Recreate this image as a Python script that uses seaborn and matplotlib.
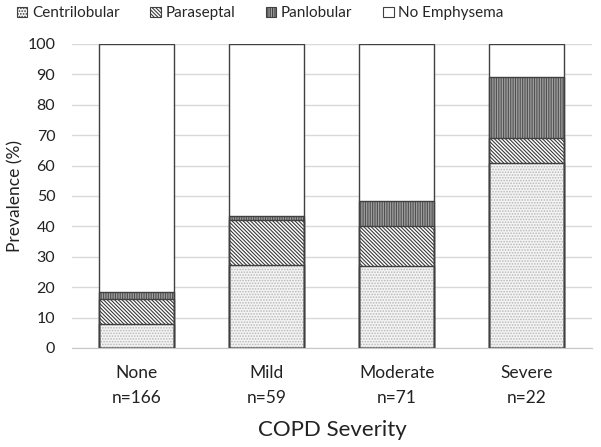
import pandas as pd
import numpy as np
import matplotlib.pyplot as plt
import seaborn as sns
from matplotlib.patches import Patch

sns.set_style('white')
plt.rcParams['font.family'] = ['Lato', 'DejaVu Sans']
plt.rcParams['hatch.linewidth'] = 0.8

severity = ['None', 'Mild', 'Moderate', 'Severe']
n_subjects = [166, 59, 71, 22]
centrilobular = [8.0, 27.3, 27.0, 61.0]
paraseptal = [8.0, 14.8, 13.0, 8.2]
panlobular = [2.3, 1.4, 8.5, 20.0]
no_emphysema = [81.7, 56.5, 51.5, 10.8]

df = pd.DataFrame({
    'severity': severity,
    'Centrilobular': centrilobular,
    'Paraseptal': paraseptal,
    'Panlobular': panlobular,
    'No Emphysema': no_emphysema,
})
layers = ['Centrilobular', 'Paraseptal', 'Panlobular', 'No Emphysema']
cum = df[layers].cumsum(axis=1)

# style per layer: face, hatch, hatch colour
styles = {
    'Centrilobular': ('#f4f4f4', '......', '#b8b8b8'),
    'Paraseptal': ('#ffffff', '\\' * 9, '#3a3a3a'),
    'Panlobular': ('#a0a0a0', '|' * 7, '#505050'),
    'No Emphysema': ('#ffffff', '', '#ffffff'),
}

fig = plt.figure(figsize=(6.01, 4.47), dpi=100)
ax = fig.add_axes([0.1198, 0.2215, 0.8652, 0.6801])

width = 75 / 130
# draw from top layer down so lower layers cover upper ones
for layer in layers[::-1]:
    face, hatch, hcol = styles[layer]
    sns.barplot(x=df['severity'], y=cum[layer], ax=ax, color=face,
                saturation=1, width=width, edgecolor=hcol, linewidth=0,
                hatch=hatch, order=severity)
for layer in layers[::-1]:
    sns.barplot(x=df['severity'], y=cum[layer], ax=ax, fill=False,
                width=width, edgecolor='#404040', linewidth=1.0,
                order=severity)

ax.set_ylim(0, 100)
ax.set_xlim(-0.5, 3.5)
ax.set_yticks(np.arange(0, 101, 10))
ax.yaxis.grid(True, color='#d9d9d9', linewidth=1.0)
ax.set_axisbelow(True)
for s in ['top', 'right', 'left']:
    ax.spines[s].set_visible(False)
ax.spines['bottom'].set_color('#c8c8c8')
ax.tick_params(axis='y', length=0, labelsize=11.5, pad=12, colors='#222222')
ax.set_xticks(range(len(severity)))
ax.set_xticklabels([f'{c}\nn={n}' for c, n in zip(severity, n_subjects)],
                   fontsize=12.5, linespacing=1.75, color='#222222')
ax.tick_params(axis='x', length=0, pad=12)
ax.set_xticks(np.arange(-0.5, 3.6, 1), minor=True)
ax.tick_params(axis='x', which='minor', length=5, color='#c8c8c8')
ax.set_ylabel('Prevalence (%)', fontsize=12.5, color='#222222', labelpad=3)
ax.set_xlabel('COPD Severity', fontsize=16, color='#222222', labelpad=10)

handles = [Patch(facecolor=styles[l][0], hatch=styles[l][1],
                 edgecolor='#404040', linewidth=0.8, label=l) for l in layers]
fig.legend(handles=handles, loc='center', bbox_to_anchor=(0.433, 0.97),
           ncol=4, frameon=False, fontsize=11, handlelength=0.7,
           handleheight=0.7, handletextpad=0.3, columnspacing=2.0)

plt.savefig('out.png', dpi=100)
